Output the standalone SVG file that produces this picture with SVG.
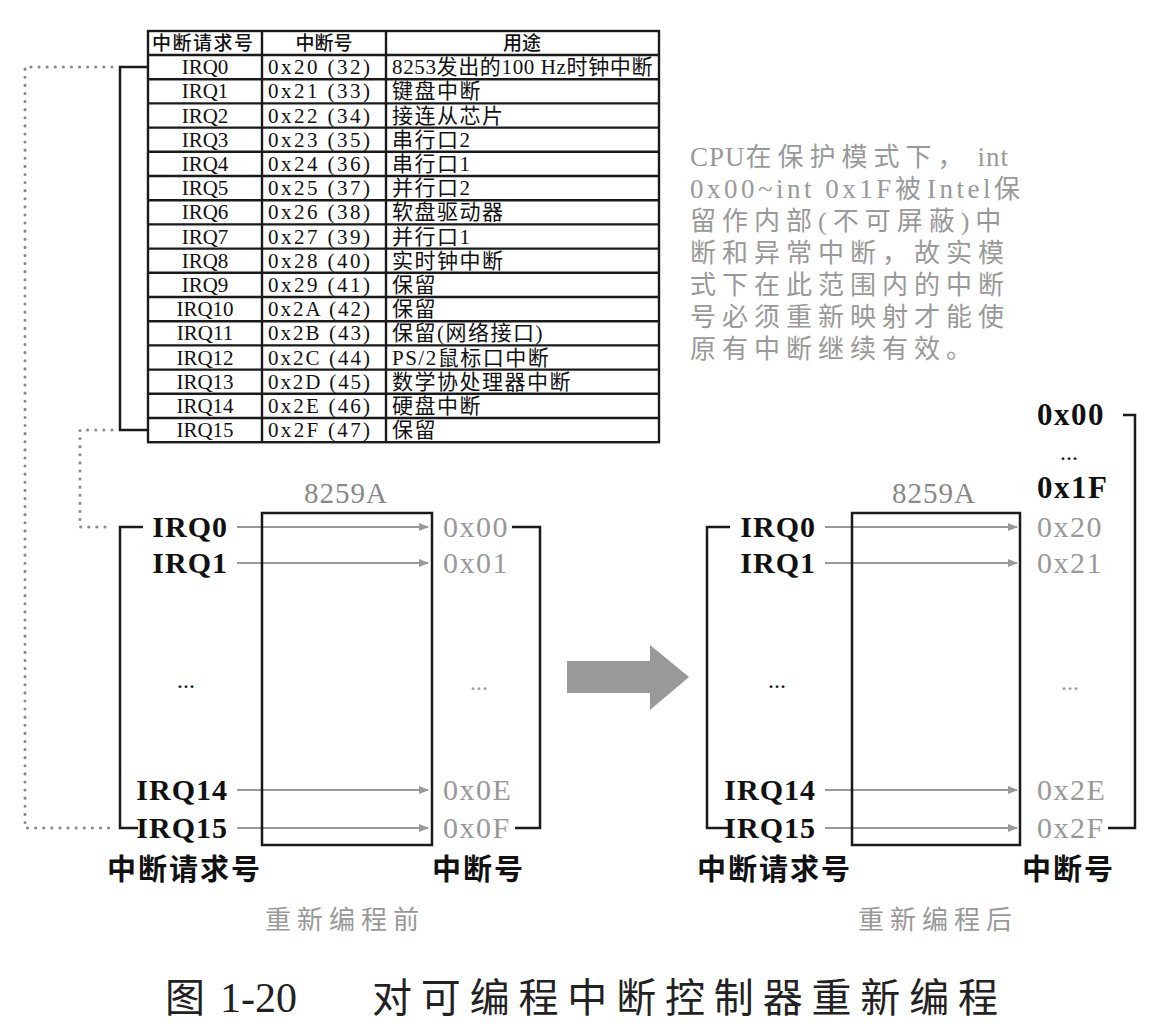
<svg xmlns="http://www.w3.org/2000/svg" width="1154" height="1036" viewBox="0 0 1154 1036">
<defs>
<marker id="ah" markerWidth="10" markerHeight="8" refX="9" refY="4" orient="auto" markerUnits="userSpaceOnUse">
<path d="M0,0 L10,4 L0,8 z" fill="#999"/>
</marker>
<style>
.tl{stroke:#1a1a1a;stroke-width:2.4;fill:none}
.th{font-family:"Noto Sans CJK SC",sans-serif;font-size:19px;fill:#111;font-weight:500}
.tc{font-family:"Liberation Serif","Noto Sans CJK SC",serif;font-size:21px;fill:#111}
.tp{font-family:"Liberation Serif","Noto Sans CJK SC",serif;font-size:21px;fill:#111;letter-spacing:1.5px}
.dot{stroke:#888;stroke-width:3;stroke-dasharray:0.1 8;stroke-linecap:round;fill:none}
.br{stroke:#1a1a1a;stroke-width:2.5;fill:none}
.box{stroke:#1a1a1a;stroke-width:2.5;fill:none}
.irq{font-family:"Liberation Serif",serif;font-size:30px;font-weight:bold;fill:#111;text-anchor:end;letter-spacing:1px}
.out{font-family:"Liberation Serif",serif;font-size:30px;fill:#999;letter-spacing:1.5px}
.outb{font-family:"Liberation Serif",serif;font-size:31px;font-weight:bold;fill:#111;letter-spacing:1.5px}
.chip{font-family:"Liberation Serif",serif;font-size:29px;fill:#888;text-anchor:middle;letter-spacing:1px}
.ell{font-family:"Liberation Serif",serif;font-size:24px;fill:#111;text-anchor:middle}
.ellg{font-family:"Liberation Serif",serif;font-size:24px;fill:#999;text-anchor:middle}
.ar{stroke:#999;stroke-width:2;marker-end:url(#ah)}
.lab{font-family:"Noto Sans CJK SC",sans-serif;font-size:29px;font-weight:bold;fill:#111;letter-spacing:2px}
.sub{font-family:"Noto Sans CJK SC",sans-serif;font-size:26px;fill:#999;letter-spacing:6px}
.note{font-family:"Liberation Serif","Noto Sans CJK SC",serif;font-size:26px;fill:#999;letter-spacing:6px}
.lat{letter-spacing:1px;font-size:27px}
.lat2{letter-spacing:3.5px;font-size:27px}
.cap{font-family:"Noto Sans CJK SC",sans-serif;font-size:40px;fill:#222}
</style>
</defs>

<g id="table">
<rect class="tl" x="148" y="31" width="511" height="411.2"/>
<line class="tl" x1="262" y1="31" x2="262" y2="442.2"/>
<line class="tl" x1="386" y1="31" x2="386" y2="442.2"/>
<path class="tl" d="M148,55H659M148,79.2H659M148,103.4H659M148,127.6H659M148,151.8H659M148,176H659M148,200.2H659M148,224.4H659M148,248.6H659M148,272.8H659M148,297H659M148,321.2H659M148,345.4H659M148,369.6H659M148,393.8H659M148,418H659"/>
<text class="th" x="152" y="50" letter-spacing="1.5">中断请求号</text>
<text class="th" x="324" y="50" text-anchor="middle">中断号</text>
<text class="th" x="522" y="50" text-anchor="middle">用途</text>
<g class="tc" text-anchor="middle">
<text x="205" y="74">IRQ0</text>
<text x="205" y="98">IRQ1</text>
<text x="205" y="122.5">IRQ2</text>
<text x="205" y="146.7">IRQ3</text>
<text x="205" y="171">IRQ4</text>
<text x="205" y="195">IRQ5</text>
<text x="205" y="219.3">IRQ6</text>
<text x="205" y="243.5">IRQ7</text>
<text x="205" y="267.7">IRQ8</text>
<text x="205" y="292">IRQ9</text>
<text x="205" y="316">IRQ10</text>
<text x="205" y="340.3">IRQ11</text>
<text x="205" y="364.5">IRQ12</text>
<text x="205" y="388.7">IRQ13</text>
<text x="205" y="413">IRQ14</text>
<text x="205" y="437">IRQ15</text>
</g>
<g class="tc">
<text x="268" y="74" textLength="102" lengthAdjust="spacing">0x20 (32)</text>
<text x="268" y="98" textLength="102" lengthAdjust="spacing">0x21 (33)</text>
<text x="268" y="122.5" textLength="102" lengthAdjust="spacing">0x22 (34)</text>
<text x="268" y="146.7" textLength="102" lengthAdjust="spacing">0x23 (35)</text>
<text x="268" y="171" textLength="102" lengthAdjust="spacing">0x24 (36)</text>
<text x="268" y="195" textLength="102" lengthAdjust="spacing">0x25 (37)</text>
<text x="268" y="219.3" textLength="102" lengthAdjust="spacing">0x26 (38)</text>
<text x="268" y="243.5" textLength="102" lengthAdjust="spacing">0x27 (39)</text>
<text x="268" y="267.7" textLength="102" lengthAdjust="spacing">0x28 (40)</text>
<text x="268" y="292" textLength="102" lengthAdjust="spacing">0x29 (41)</text>
<text x="268" y="316" textLength="102" lengthAdjust="spacing">0x2A (42)</text>
<text x="268" y="340.3" textLength="102" lengthAdjust="spacing">0x2B (43)</text>
<text x="268" y="364.5" textLength="102" lengthAdjust="spacing">0x2C (44)</text>
<text x="268" y="388.7" textLength="102" lengthAdjust="spacing">0x2D (45)</text>
<text x="268" y="413" textLength="102" lengthAdjust="spacing">0x2E (46)</text>
<text x="268" y="437" textLength="102" lengthAdjust="spacing">0x2F (47)</text>
</g>
<g class="tp">
<text x="392" y="74" textLength="262" lengthAdjust="spacing">8253发出的100 Hz时钟中断</text>
<text x="392" y="98">键盘中断</text>
<text x="392" y="122.5">接连从芯片</text>
<text x="392" y="146.7">串行口2</text>
<text x="392" y="171">串行口1</text>
<text x="392" y="195">并行口2</text>
<text x="392" y="219.3">软盘驱动器</text>
<text x="392" y="243.5">并行口1</text>
<text x="392" y="267.7">实时钟中断</text>
<text x="392" y="292">保留</text>
<text x="392" y="316">保留</text>
<text x="392" y="340.3">保留(网络接口)</text>
<text x="392" y="364.5">PS/2鼠标口中断</text>
<text x="392" y="388.7">数学协处理器中断</text>
<text x="392" y="413">硬盘中断</text>
<text x="392" y="437">保留</text>
</g>
</g>

<g id="note" class="note">
<text x="690" y="166"><tspan class="lat">CPU</tspan>在保护模式下，<tspan class="lat" dx="8">int</tspan></text>
<text x="690" y="198"><tspan class="lat2">0x00~int 0x1F</tspan>被<tspan class="lat2">Intel</tspan>保</text>
<text x="690" y="230">留作内部(不可屏蔽)中</text>
<text x="690" y="262">断和异常中断，故实模</text>
<text x="690" y="294">式下在此范围内的中断</text>
<text x="690" y="326">号必须重新映射才能使</text>
<text x="690" y="358">原有中断继续有效。</text>
</g>

<g id="connectors">
<path class="dot" d="M112,67H25V828H112"/>
<path class="dot" d="M112,430H80V527H112"/>
<path class="br" d="M148,67H120V430H148"/>
<path class="br" d="M143,527H120V828H138"/>
<path class="br" d="M512,527H540V828H515"/>
<path class="br" d="M730,527H707V828H730"/>
<path class="br" d="M1123,415H1135V828H1108"/>
<line class="ar" x1="237" y1="527" x2="428" y2="527"/>
<line class="ar" x1="237" y1="563" x2="428" y2="563"/>
<line class="ar" x1="237" y1="790" x2="428" y2="790"/>
<line class="ar" x1="237" y1="828" x2="428" y2="828"/>
<line class="ar" x1="825" y1="527" x2="1017" y2="527"/>
<line class="ar" x1="825" y1="563" x2="1017" y2="563"/>
<line class="ar" x1="825" y1="790" x2="1017" y2="790"/>
<line class="ar" x1="825" y1="828" x2="1017" y2="828"/>
<path id="bigarrow" d="M567,661H650V645L689,677L650,710V693H567Z" fill="#999"/>
</g>

<g id="pic-before">
<rect class="box" x="262" y="513" width="170" height="332"/>
<text class="chip" x="346" y="503">8259A</text>
<text class="irq" x="228" y="537">IRQ0</text>
<text class="irq" x="228" y="573">IRQ1</text>
<text class="ell" x="186" y="688">...</text>
<text class="irq" x="228" y="800">IRQ14</text>
<text class="irq" x="228" y="838">IRQ15</text>
<text class="out" x="443" y="537">0x00</text>
<text class="out" x="443" y="573">0x01</text>
<text class="ellg" x="479" y="690">...</text>
<text class="out" x="443" y="800">0x0E</text>
<text class="out" x="443" y="838">0x0F</text>
<text class="lab" x="107" y="880">中断请求号</text>
<text class="lab" x="432" y="880">中断号</text>
<text class="sub" x="265" y="929">重新编程前</text>
</g>

<g id="pic-after">
<rect class="box" x="852" y="513" width="168" height="332"/>
<text class="chip" x="934" y="503">8259A</text>
<text class="irq" x="816" y="537">IRQ0</text>
<text class="irq" x="816" y="573">IRQ1</text>
<text class="ell" x="777" y="688">...</text>
<text class="irq" x="816" y="800">IRQ14</text>
<text class="irq" x="816" y="838">IRQ15</text>
<text class="outb" x="1037" y="425">0x00</text>
<text class="ell" x="1069" y="460">...</text>
<text class="outb" x="1037" y="498">0x1F</text>
<text class="out" x="1037" y="537">0x20</text>
<text class="out" x="1037" y="573">0x21</text>
<text class="ellg" x="1070" y="690">...</text>
<text class="out" x="1037" y="800">0x2E</text>
<text class="out" x="1037" y="838">0x2F</text>
<text class="lab" x="697" y="880">中断请求号</text>
<text class="lab" x="1022" y="880">中断号</text>
<text class="sub" x="858" y="929">重新编程后</text>
</g>

<g id="caption" class="cap">
<text x="165" y="1012">图</text>
<text x="220" y="1012" font-family="Liberation Serif, serif" font-size="42">1-20</text>
<text x="372" y="1012" textLength="626" lengthAdjust="spacing">对可编程中断控制器重新编程</text>
</g>
</svg>
